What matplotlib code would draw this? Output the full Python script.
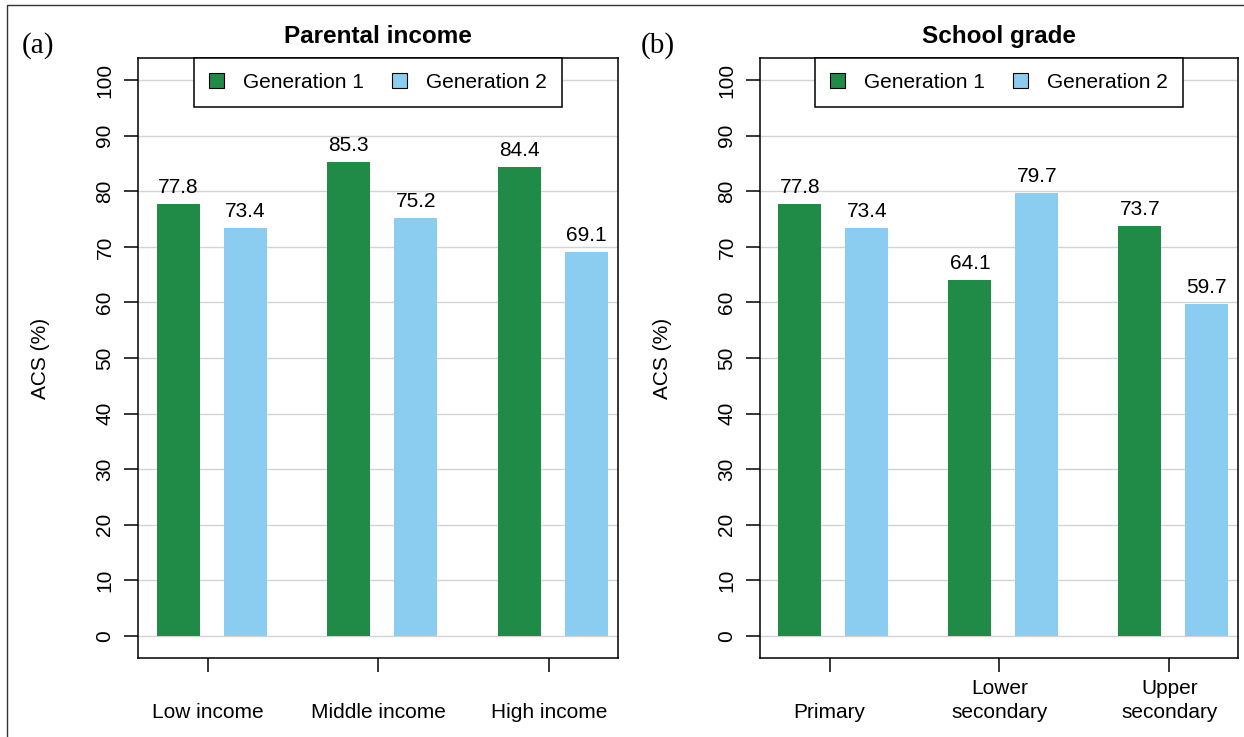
import numpy as np
import matplotlib
matplotlib.use("Agg")
import matplotlib.pyplot as plt
from matplotlib.patches import Patch, Rectangle

plt.rcParams['font.family'] = ['Liberation Sans', 'DejaVu Sans']

# data
gen_labels = ["Generation 1", "Generation 2"]
income_cats = ["Low income", "Middle income", "High income"]
income_gen1 = [77.8, 85.3, 84.4]
income_gen2 = [73.4, 75.2, 69.1]
grade_cats = ["Primary", "Lower\nsecondary", "Upper\nsecondary"]
grade_gen1 = [77.8, 64.1, 73.7]
grade_gen2 = [73.4, 79.7, 59.7]

GREEN = '#208B46'
BLUE = '#8ACDF0'
FS = 15

fig = plt.figure(figsize=(12.44, 7.37), dpi=100)

# outer frame
fig.patches.append(Rectangle((7 / 1244, -0.1), 1.2, 1.1 - 5 / 737,
                             transform=fig.transFigure, fill=False,
                             edgecolor='#333333', linewidth=1.0))


def draw_panel(ax, cats, g1, g2, title):
    starts = np.arange(len(cats)) * 3.96
    x1 = starts + 0.5
    x2 = starts + 2.06

    ax.set_ylim(-4, 104)
    ax.set_xlim(-0.43, 10.71)
    ax.set_yticks(range(0, 101, 10))
    ax.grid(True, axis='y', color='#D3D3D3', linewidth=1.0)
    ax.set_axisbelow(True)

    ax.bar(x1, g1, width=1.0, color=GREEN, linewidth=0)
    ax.bar(x2, g2, width=1.0, color=BLUE, linewidth=0)

    for x, v in zip(np.concatenate([x1, x2]), list(g1) + list(g2)):
        ax.annotate(f"{v:.1f}", (x, v), xytext=(0, 5), textcoords='offset points',
                    ha='center', va='bottom', fontsize=FS)

    ax.set_xticks(starts + 1.19)
    ax.set_xticklabels(cats, fontsize=FS, linespacing=1.3)
    for lab in ax.get_xticklabels():
        lab.set_va('bottom')
    ax.tick_params(axis='x', length=10, width=1.1, pad=36)
    ax.tick_params(axis='y', length=10, width=1.1, pad=7, labelsize=FS,
                   labelrotation=90)
    for lab in ax.get_yticklabels():
        lab.set_va('center')

    for sp in ax.spines.values():
        sp.set_linewidth(1.1)

    ax.set_ylabel("ACS (%)", fontsize=FS, labelpad=33)
    ax.set_title(title, fontsize=17.5, fontweight='bold', pad=11)

    handles = [Patch(facecolor=GREEN, edgecolor='black', linewidth=0.8),
               Patch(facecolor=BLUE, edgecolor='black', linewidth=0.8)]
    leg = ax.legend(handles, gen_labels, loc='upper center', bbox_to_anchor=(0.5, 1.0),
                    ncol=2, fontsize=FS, frameon=True, fancybox=False,
                    edgecolor='black', framealpha=1, borderaxespad=0,
                    handlelength=0.72, handleheight=0.72, handletextpad=0.9,
                    columnspacing=1.35, borderpad=0.72)
    leg.get_frame().set_linewidth(1.1)


ax_a = fig.add_axes([138 / 1244, 1 - 658 / 737, 480 / 1244, 600 / 737])
ax_b = fig.add_axes([760 / 1244, 1 - 658 / 737, 478 / 1244, 600 / 737])

draw_panel(ax_a, income_cats, income_gen1, income_gen2, "Parental income")
draw_panel(ax_b, grade_cats, grade_gen1, grade_gen2, "School grade")

fig.text(38 / 1244, 1 - 46 / 737, "(a)", family='Liberation Serif', fontsize=21,
         ha='center', va='center')
fig.text(658 / 1244, 1 - 46 / 737, "(b)", family='Liberation Serif', fontsize=21,
         ha='center', va='center')

fig.savefig("out.png", dpi=100)
